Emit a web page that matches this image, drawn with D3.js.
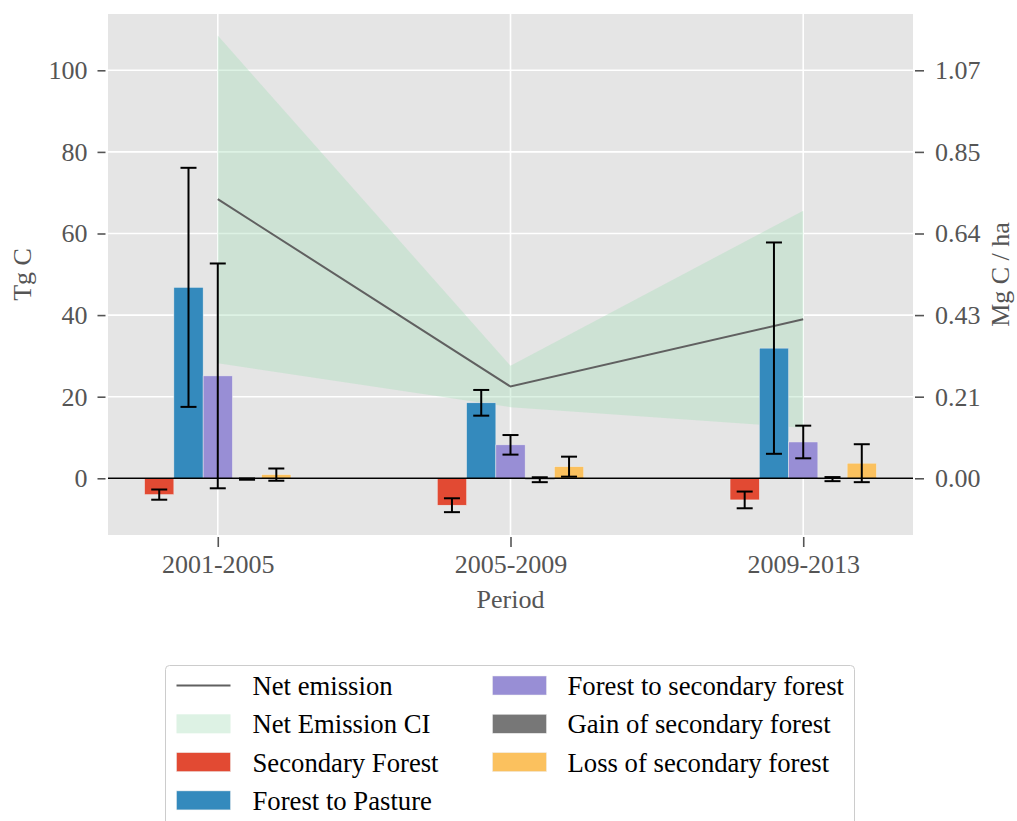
<!DOCTYPE html>
<html>
<head>
<meta charset="utf-8">
<script src="https://cdn.jsdelivr.net/npm/d3@7"></script>
<style>
  html, body { margin: 0; padding: 0; background: #ffffff; }
  svg { display: block; font-family: "Liberation Serif", "Times New Roman", serif; }
</style>
</head>
<body>
<svg id="chart" width="1017" height="821"></svg>
<script>
// Periods on the x axis
const periods = ["2001-2005", "2005-2009", "2009-2013"];

// Carbon flux per component (Tg C) with error half-widths
const secondaryForest    = [-4.0, -6.6, -5.3];
const secondaryForestErr = [1.25, 1.7, 2.05];
const forestToPasture    = [46.8, 18.5, 31.9];
const forestToPastureErr = [29.3, 3.15, 25.9];
const forestToSecondary    = [25.1, 8.2, 8.9];
const forestToSecondaryErr = [27.55, 2.4, 4.0];
const gainSecondary    = [-0.2, -0.35, -0.2];
const gainSecondaryErr = [0.15, 0.6, 0.5];
const lossSecondary    = [0.9, 2.85, 3.7];
const lossSecondaryErr = [1.5, 2.45, 4.65];

// Net emission per area (Mg C / ha) and its confidence interval
const netEmission = [0.730, 0.240, 0.416];
const netCILower  = [0.301, 0.186, 0.132];
const netCIUpper  = [1.158, 0.294, 0.700];

// Axis ticks
const leftTicks  = [0, 20, 40, 60, 80, 100];
const rightTicks = [0, 0.2134, 0.4268, 0.6402, 0.8536, 1.067];
const tgPerMgha  = 0.01067;   // Mg C/ha per Tg C on the twin axis

const seriesNames = ["Secondary Forest", "Forest to Pasture", "Forest to secondary forest",
                     "Gain of secondary forest", "Loss of secondary forest"];
const seriesVals = [secondaryForest, forestToPasture, forestToSecondary, gainSecondary, lossSecondary];
const seriesErrs = [secondaryForestErr, forestToPastureErr, forestToSecondaryErr, gainSecondaryErr, lossSecondaryErr];
const seriesColors = ["#E24A33", "#348ABD", "#988ED5", "#777777", "#FBC15E"];

const svg = d3.select("#chart");
const plot = { left: 108, right: 913, top: 14, bottom: 535 };
const textColor = "#555555";
const fontSize = 26;
const legendFontSize = 26.7;

const yMin = -13.9, yMax = 113.8;
const x = d3.scaleLinear().domain([-0.375, 2.375]).range([plot.left, plot.right]);
const y = d3.scaleLinear().domain([yMin, yMax]).range([plot.bottom, plot.top]);
const yR = d3.scaleLinear().domain([yMin * tgPerMgha, yMax * tgPerMgha]).range([plot.bottom, plot.top]);

// Panel background
svg.append("rect")
  .attr("x", plot.left).attr("y", plot.top)
  .attr("width", plot.right - plot.left).attr("height", plot.bottom - plot.top)
  .attr("fill", "#E5E5E5");

// Grid
const grid = svg.append("g").attr("stroke", "#ffffff").attr("stroke-width", 1.6);
leftTicks.forEach(t => {
  grid.append("line").attr("x1", plot.left).attr("x2", plot.right)
    .attr("y1", y(t)).attr("y2", y(t));
});
periods.forEach((p, i) => {
  grid.append("line").attr("x1", x(i)).attr("x2", x(i))
    .attr("y1", plot.top).attr("y2", plot.bottom);
});

// Confidence band for net emission
const band = d3.area()
  .x((d, i) => x(i))
  .y0((d, i) => yR(netCILower[i]))
  .y1((d, i) => yR(netCIUpper[i]));
svg.append("path").datum(periods)
  .attr("d", band)
  .attr("fill", "rgb(169,222,187)")
  .attr("fill-opacity", 0.4);

// Net emission line
const netLine = d3.line().x((d, i) => x(i)).y(d => yR(d));
svg.append("path").datum(netEmission)
  .attr("d", netLine)
  .attr("fill", "none")
  .attr("stroke", "#606060")
  .attr("stroke-width", 2);

// Bars
const offsets = [-0.25, -0.15, -0.05, 0.05, 0.15];
const barW = 0.1;
const bars = svg.append("g");
seriesVals.forEach((vals, s) => {
  vals.forEach((v, i) => {
    const x0 = x(i + offsets[s]);
    const x1 = x(i + offsets[s] + barW);
    bars.append("rect")
      .attr("x", x0).attr("width", x1 - x0)
      .attr("y", Math.min(y(v), y(0)))
      .attr("height", Math.abs(y(v) - y(0)))
      .attr("fill", seriesColors[s])
      .attr("stroke", "#EEEEEE")
      .attr("stroke-width", 0.5);
  });
});

// Zero line
svg.append("line")
  .attr("x1", plot.left).attr("x2", plot.right)
  .attr("y1", y(0)).attr("y2", y(0))
  .attr("stroke", "#000000").attr("stroke-width", 1.4);

// Error bars
const errG = svg.append("g").attr("stroke", "#000000").attr("stroke-width", 2);
const capHalf = 8;
seriesVals.forEach((vals, s) => {
  vals.forEach((v, i) => {
    const cx = x(i + offsets[s] + barW / 2);
    const e = seriesErrs[s][i];
    const yt = y(v + e), yb = y(v - e);
    errG.append("line").attr("x1", cx).attr("x2", cx).attr("y1", yt).attr("y2", yb);
    errG.append("line").attr("x1", cx - capHalf).attr("x2", cx + capHalf).attr("y1", yt).attr("y2", yt);
    errG.append("line").attr("x1", cx - capHalf).attr("x2", cx + capHalf).attr("y1", yb).attr("y2", yb);
  });
});

// Axes
function styleAxis(g) {
  g.select(".domain").remove();
  g.selectAll(".tick line").attr("stroke", textColor).attr("stroke-width", 1.6);
  g.selectAll(".tick text")
    .attr("fill", textColor)
    .style("font-family", "'Liberation Serif', serif")
    .style("font-size", fontSize + "px");
}

svg.append("g")
  .attr("transform", `translate(105.5,0)`)
  .call(d3.axisLeft(y).tickValues(leftTicks).tickSize(8).tickPadding(10).tickFormat(d3.format("d")))
  .call(styleAxis);

svg.append("g")
  .attr("transform", `translate(915,0)`)
  .call(d3.axisRight(yR).tickValues(rightTicks).tickSize(9).tickPadding(11).tickFormat(d3.format(".2f")))
  .call(styleAxis);

const xAxisG = svg.append("g")
  .attr("transform", `translate(0,537)`)
  .call(d3.axisBottom(x).tickValues(d3.range(periods.length)).tickSize(10).tickPadding(8)
        .tickFormat(i => periods[i]))
  .call(styleAxis);
xAxisG.selectAll(".tick text").attr("y", 36).attr("dy", 0);

// Axis labels
svg.append("text")
  .attr("x", (plot.left + plot.right) / 2).attr("y", 608)
  .attr("text-anchor", "middle")
  .attr("fill", textColor).style("font-size", fontSize + "px")
  .text("Period");

svg.append("text")
  .attr("transform", `translate(31,${(plot.top + plot.bottom) / 2}) rotate(-90)`)
  .attr("text-anchor", "middle")
  .attr("fill", textColor).style("font-size", fontSize + "px")
  .text("Tg C");

svg.append("text")
  .attr("transform", `translate(1009,${(plot.top + plot.bottom) / 2}) rotate(-90)`)
  .attr("text-anchor", "middle")
  .attr("fill", textColor).style("font-size", fontSize + "px")
  .text("Mg C / ha");

// Legend
const legend = svg.append("g");
legend.append("rect")
  .attr("x", 165.5).attr("y", 665.5)
  .attr("width", 689).attr("height", 175)
  .attr("rx", 4).attr("ry", 4)
  .attr("fill", "#ffffff").attr("stroke", "#cccccc").attr("stroke-width", 1);

const legendItems = [
  { label: "Net emission", kind: "line", color: "#606060", col: 0, row: 0 },
  { label: "Net Emission CI", kind: "band", color: "rgb(169,222,187)", col: 0, row: 1 },
  { label: seriesNames[0], kind: "bar", color: seriesColors[0], col: 0, row: 2 },
  { label: seriesNames[1], kind: "bar", color: seriesColors[1], col: 0, row: 3 },
  { label: seriesNames[2], kind: "bar", color: seriesColors[2], col: 1, row: 0 },
  { label: seriesNames[3], kind: "bar", color: seriesColors[3], col: 1, row: 1 },
  { label: seriesNames[4], kind: "bar", color: seriesColors[4], col: 1, row: 2 }
];
const colHandleX = [176.5, 492.5];
const colTextX = [252.5, 567.5];
const rowY0 = 685.5, rowStep = 38.3;
const handleW = 54, handleH = 19;

legendItems.forEach(it => {
  const cy = rowY0 + it.row * rowStep;
  const hx = colHandleX[it.col];
  if (it.kind === "line") {
    legend.append("line")
      .attr("x1", hx).attr("x2", hx + handleW)
      .attr("y1", cy).attr("y2", cy)
      .attr("stroke", it.color).attr("stroke-width", 2);
  } else {
    legend.append("rect")
      .attr("x", hx).attr("y", cy - handleH / 2)
      .attr("width", handleW).attr("height", handleH)
      .attr("fill", it.color)
      .attr("fill-opacity", it.kind === "band" ? 0.4 : 1)
      .attr("stroke", it.kind === "band" ? "none" : "#EEEEEE")
      .attr("stroke-width", 0.5);
  }
  legend.append("text")
    .attr("x", colTextX[it.col]).attr("y", cy + 9.5)
    .attr("fill", "#000000")
    .style("font-size", legendFontSize + "px")
    .text(it.label);
});
</script>
</body>
</html>
